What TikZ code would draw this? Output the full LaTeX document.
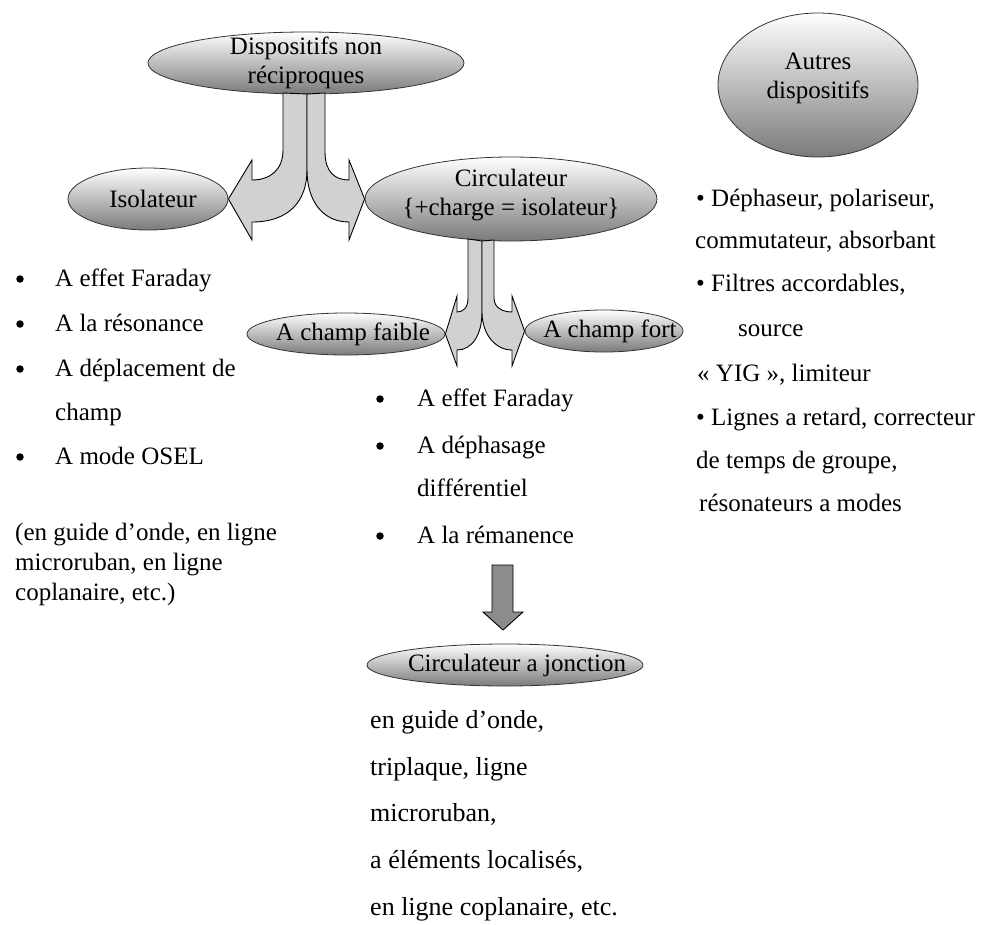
\documentclass[tikz,border=0pt]{standalone}
\usepackage{fontspec}
\setmainfont{Liberation Serif}
\usetikzlibrary{shapes.geometric, positioning, calc}

\tikzset{
	bulle/.style={ellipse, draw=black!80, line width=0.8pt, top color=white, bottom color=black!52, inner sep=0pt},
	txt/.style={anchor=base west, inner sep=0pt},
	puce/.style={circle, fill=black, inner sep=0pt, minimum size=7.5pt},
	fleche/.style={draw=black, line width=0.9pt, fill=black!18, line join=miter}
}

\begin{document}
\begin{tikzpicture}[x=1pt, y=-1pt, font=\fontsize{25}{29}\selectfont]
		\useasboundingbox (0,0) rectangle (987,924);

		% Ellipses
		\node[bulle, minimum width=316, minimum height=62, label={[align=center]center:Dispositifs non\\réciproques}] (nonrec) at (306,63) {};
		\node[bulle, minimum width=160, minimum height=62, label={[xshift=5pt]center:Isolateur}] (isol) at (148,199) {};
		\node[bulle, minimum width=292, minimum height=84, label={[align=center, yshift=4pt]center:Circulateur\\\{+charge = isolateur\}}] (circ) at (511,199) {};
		\node[bulle, minimum width=200, minimum height=144, label={[align=center, yshift=7pt]center:Autres\\dispositifs}] (autres) at (818,85) {};
		\node[bulle, minimum width=198, minimum height=42, label={[xshift=7pt]center:A champ faible}] (faible) at (346,334) {};
		\node[bulle, minimum width=158, minimum height=42, label={[xshift=6pt]center:A champ fort}] (fort) at (604,331) {};
		\node[bulle, minimum width=276, minimum height=42, label={[xshift=12pt]center:Circulateur a jonction}] (jonction) at (505,665) {};

		% Fleches
		\draw[fleche] (283,93) -- (283,150) .. controls (283,170) and (270,180) .. (252,180) -- (252,160) -- (isol.east) -- (252,240) -- (252,222) .. controls (290,222) and (307,200) .. (307,170) -- (307,94) -- cycle;
		\draw[fleche] (325,93) -- (325,152) .. controls (325,172) and (335,180) .. (349,180) -- (349,160) -- (circ.west) -- (349,240) -- (349,222) .. controls (322,222) and (307,200) .. (307,170) -- (307,94) -- cycle;
		\draw[fleche] (468,239) -- (468,298) .. controls (468,308) and (463,312) .. (457,312) -- (457,296) -- (faible.east) -- (457,366) -- (457,350) .. controls (472,350) and (482,335) .. (482,312) -- (482,241) -- cycle;
		\draw[fleche] (494,240) -- (494,298) .. controls (494,308) and (503,312) .. (512,312) -- (512,296) -- (fort.west) -- (512,366) -- (512,350) .. controls (496,350) and (482,335) .. (482,312) -- (482,241) -- cycle;
		\draw[fleche, fill=black!45] (492,565) -- (492,612) -- (483,612) -- (503,630) -- (523,612) -- (513,612) -- (513,565) -- cycle;

		% Isolateur
		\node[puce] (pl1) at (20,279) {};
		\node[puce] (pl2) at (20,324) {};
		\node[puce] (pl3) at (20,369) {};
		\node[puce] (pl4) at (20,457) {};
		\node[txt] (l1) at (55,286) {A effet Faraday};
		\node[txt] (l2) at (55,331) {A la résonance};
		\node[txt] (l3) at (55,376) {A déplacement de};
		\node[txt] (l4) at (55,420) {champ};
		\node[txt] (l5) at (55,464) {A mode OSEL};
		\node[txt] (p1) at (15,540) {(en guide d’onde, en ligne};
		\node[txt] (p2) at (15,570) {microruban, en ligne};
		\node[txt] (p3) at (15,600) {coplanaire, etc.)};

		% Circulateur
		\node[puce] (pm1) at (380,399) {};
		\node[puce] (pm2) at (380,446) {};
		\node[puce] (pm3) at (380,536) {};
		\node[txt] (m1) at (417,406) {A effet Faraday};
		\node[txt] (m2) at (417,453) {A déphasage};
		\node[txt] (m3) at (417,496) {différentiel};
		\node[txt] (m4) at (417,543) {A la rémanence};

		% Circulateur a jonction
		\node[txt, font=\fontsize{26}{30}\selectfont] (j1) at (370,728) {en guide d’onde,};
		\node[txt, font=\fontsize{26}{30}\selectfont] (j2) at (370,775) {triplaque, ligne};
		\node[txt, font=\fontsize{26}{30}\selectfont] (j3) at (370,821) {microruban,};
		\node[txt, font=\fontsize{26}{30}\selectfont] (j4) at (370,868) {a éléments localisés,};
		\node[txt, font=\fontsize{26}{30}\selectfont] (j5) at (370,915) {en ligne coplanaire, etc.};

		% Autres dispositifs
		\node[txt] (r1) at (696,206) {\textbullet\ Déphaseur, polariseur,};
		\node[txt] (r2) at (695,248) {commutateur, absorbant};
		\node[txt] (r3) at (696,291) {\textbullet\ Filtres accordables,};
		\node[txt] (r4) at (738,336) {source};
		\node[txt] (r5) at (697,381) {«~YIG~», limiteur};
		\node[txt] (r6) at (696,425) {\textbullet\ Lignes a retard, correcteur};
		\node[txt] (r7) at (696,468) {de temps de groupe,};
		\node[txt] (r8) at (699,511) {résonateurs a modes};
	\end{tikzpicture}
\end{document}
